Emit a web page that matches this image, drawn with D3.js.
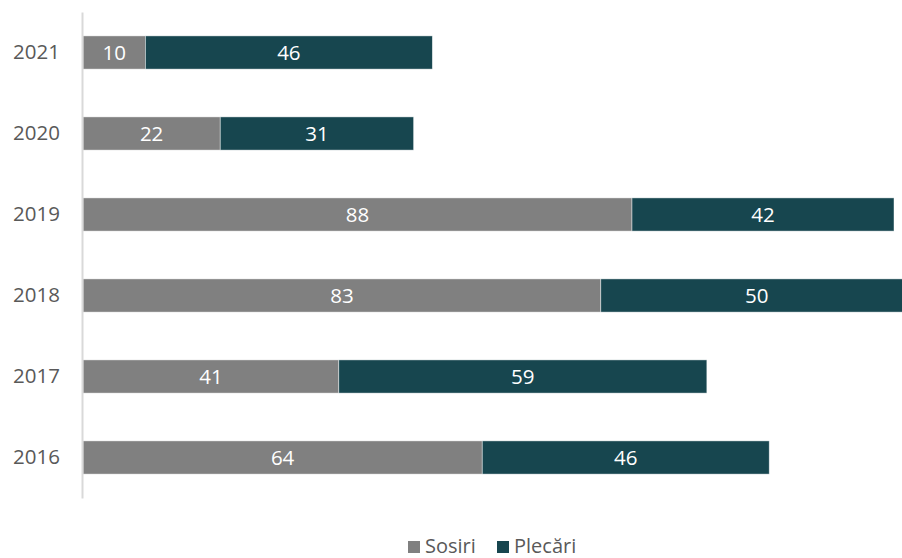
<!DOCTYPE html>
<html>
<head>
<meta charset="utf-8">
<script src="https://cdn.jsdelivr.net/npm/d3@7"></script>
<style>
  body { margin: 0; background: #fff; overflow: hidden; }
  svg { display: block; font-family: "Open Sans", sans-serif; }
</style>
</head>
<body>
<div id="chart"></div>
<script>
// data
var years = ["2021", "2020", "2019", "2018", "2017", "2016"];
var sosiri = [10, 22, 88, 83, 41, 64];
var plecari = [46, 31, 42, 50, 59, 46];
var seriesNames = ["Sosiri", "Plecări"];
var colors = ["#808080", "#17464f"];

var svgWidth = 902;
var svgHeight = 558;

var svg = d3.select("#chart")
  .append("svg")
  .attr("width", svgWidth)
  .attr("height", svgHeight);

var rows = years.map(function(y, i) {
  return { year: y, Sosiri: sosiri[i], "Plecări": plecari[i] };
});

var stacked = d3.stack().keys(seriesNames)(rows);

// scales
var yScale = d3.scaleBand()
  .domain(years)
  .range([12, 498])
  .paddingInner(0.59)
  .paddingOuter(0.295);

var xScale = d3.scaleLinear()
  .domain([0, 130])
  .range([83, 894]);

// bars
var layers = svg.selectAll(".layer")
  .data(stacked)
  .enter()
  .append("g")
  .attr("fill", (d, i) => colors[i]);

layers.selectAll("rect")
  .data(d => d)
  .enter()
  .append("rect")
  .attr("x", d => xScale(d[0]))
  .attr("y", d => yScale(d.data.year))
  .attr("width", d => xScale(d[1]) - xScale(d[0]))
  .attr("height", yScale.bandwidth())
  .attr("stroke", "#ffffff")
  .attr("stroke-opacity", 0.6)
  .attr("stroke-width", 0.75);

// value labels
layers.selectAll("text")
  .data(d => d)
  .enter()
  .append("text")
  .attr("x", d => (xScale(d[0]) + xScale(d[1])) / 2)
  .attr("y", d => yScale(d.data.year) + yScale.bandwidth() / 2)
  .attr("dy", "0.36em")
  .attr("text-anchor", "middle")
  .attr("fill", "#ffffff")
  .attr("font-size", "20.5px")
  .text(d => d[1] - d[0]);

// y axis
var leftAxis = d3.axisLeft(yScale).tickSize(0).tickPadding(22);
var yAxis = svg.append("g")
  .attr("transform", "translate(82,0)")
  .call(leftAxis);
yAxis.select(".domain").attr("stroke", "#d9d9d9").attr("stroke-width", 2);
yAxis.selectAll("text")
  .attr("font-family", "Open Sans, sans-serif")
  .attr("font-size", "20.5px")
  .attr("fill", "#595959");

// legend
var legend = svg.append("g").attr("transform", "translate(0,546)");
var legendX = [408, 497];
seriesNames.forEach(function(name, i) {
  legend.append("rect")
    .attr("x", legendX[i])
    .attr("y", -5)
    .attr("width", 12)
    .attr("height", 12)
    .attr("fill", colors[i]);
  legend.append("text")
    .attr("x", legendX[i] + 17)
    .attr("y", 0)
    .attr("dy", "0.36em")
    .attr("font-size", "20px")
    .attr("fill", "#595959")
    .text(name);
});
</script>
</body>
</html>
